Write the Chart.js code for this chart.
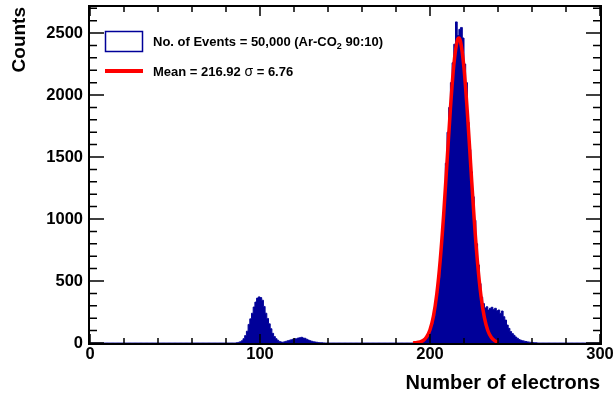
<!DOCTYPE html>
<html>
<head>
<meta charset="utf-8">
<script src="https://cdn.jsdelivr.net/npm/chart.js@4.4.0/dist/chart.umd.min.js"></script>
<style>
  html, body { margin: 0; padding: 0; background: #fff; }
</style>
</head>
<body>
<canvas id="c" width="614" height="401"></canvas>
<script>
// ── Data ────────────────────────────────────────────────────────────────────
// One bin per electron, 0..300. Only the two non-empty runs are listed; every
// other bin is empty.
const binCount = 300;

// escape peak (~100) plus the small bump around 125
const escapeStart  = 86;
const escapeCounts = [2, 5, 10, 18, 35, 60, 95, 150, 195, 240,
                      290, 330, 362, 372, 366, 345, 295, 240, 198, 155,
                      115, 78, 52, 35, 22, 12, 8, 6, 10, 14,
                      18, 22, 26, 30, 35, 34, 40, 42, 46, 40,
                      38, 30, 24, 18, 14, 10, 8, 6, 4, 3,
                      2, 1];

// main peak (~217) with its right-hand shoulder
const photoStart  = 193;
const photoCounts = [5, 8, 12, 20, 32, 50, 76, 112, 160, 222,
                     305, 410, 530, 680, 865, 1100, 1450, 1700, 1900, 2100,
                     2260, 2410, 2590, 2480, 2530, 2545, 2460, 2250, 2100, 1780,
                     1560, 1380, 1180, 990, 800, 630, 480, 370, 318, 282,
                     292, 266, 280, 288, 270, 280, 261, 266, 239, 258,
                     212, 185, 145, 118, 92, 76, 62, 48, 38, 28,
                     22, 18, 15, 12, 9, 7, 5, 4, 3, 2];

// Gaussian fit drawn over the main peak
const fitX = [190, 192, 194, 196, 198, 200, 202, 204, 206, 208, 210, 212, 214, 216,
              217, 218, 220, 222, 224, 226, 228, 230, 232, 234, 236, 238, 240];
const fitY = [1, 3, 8, 20, 49, 107, 215, 396, 667, 1030, 1457, 1888, 2241, 2437,
              2460, 2429, 2217, 1855, 1422, 998, 642, 378, 204, 101, 46, 19, 7];

const xTickValues = [0, 100, 200, 300];
const yTickValues = [0, 500, 1000, 1500, 2000, 2500];
const xMax = 300;
const yMax = 2710;

const histLabel = ['No. of Events = 50,000 (Ar-CO', '2', ' 90:10)'];
const fitLabel  = ['Mean = 216.92 ', '\u03C3', ' = 6.76'];

const HIST_BLUE = '#000099';
const FIT_RED   = '#ff0000';
const FONT      = '"Liberation Sans", Arial, Helvetica, sans-serif';

// ── Build series ────────────────────────────────────────────────────────────
const histPoints = [];
for (let b = 0; b < binCount; b++) {
  let n = 0;
  if (b >= escapeStart && b < escapeStart + escapeCounts.length) n = escapeCounts[b - escapeStart];
  if (b >= photoStart && b < photoStart + photoCounts.length)   n = photoCounts[b - photoStart];
  histPoints.push({ x: b + 0.5, y: n });
}
const fitPoints = fitX.map((x, i) => ({ x, y: fitY[i] }));

// ── Plugins: ROOT-style frame with inward ticks, and the legend ─────────────
const frameTicks = {
  id: 'frameTicks',
  afterDatasetsDraw(chart) {
    const { ctx, chartArea: a, scales: { x, y } } = chart;
    ctx.save();
    ctx.strokeStyle = '#000';
    ctx.lineWidth = 1.5;
    ctx.beginPath();
    for (let v = 0; v <= xMax; v += 20) {
      const px = x.getPixelForValue(v);
      const len = v % 100 === 0 ? 9 : 5;
      ctx.moveTo(px, a.bottom); ctx.lineTo(px, a.bottom - len);
      ctx.moveTo(px, a.top);    ctx.lineTo(px, a.top + len);
    }
    for (let v = 0; v <= yMax; v += 100) {
      const py = y.getPixelForValue(v);
      const len = v % 500 === 0 ? 14 : 7;
      ctx.moveTo(a.left, py);  ctx.lineTo(a.left + len, py);
      ctx.moveTo(a.right, py); ctx.lineTo(a.right - len, py);
    }
    ctx.stroke();
    ctx.lineWidth = 2;
    ctx.strokeRect(a.left - 1, a.top - 1, a.right - a.left + 2, a.bottom - a.top + 2);
    ctx.restore();
  }
};

function drawParts(ctx, x, y, parts, styles) {
  parts.forEach((t, i) => {
    const s = styles[i];
    ctx.font = s.font;
    ctx.fillText(t, x, y + (s.dy || 0));
    x += ctx.measureText(t).width;
  });
}

const rootLegend = {
  id: 'rootLegend',
  afterDraw(chart) {
    const ctx = chart.ctx;
    ctx.save();
    ctx.textBaseline = 'middle';
    ctx.textAlign = 'left';
    ctx.fillStyle = '#000';
    // histogram entry: empty box
    ctx.strokeStyle = HIST_BLUE;
    ctx.lineWidth = 1.5;
    ctx.strokeRect(105.5, 31.5, 37, 20);
    const bold = `bold 13px ${FONT}`;
    drawParts(ctx, 153, 42, histLabel,
      [{ font: bold }, { font: `bold 9px ${FONT}`, dy: 5 }, { font: bold }]);
    // fit entry: red line
    ctx.strokeStyle = FIT_RED;
    ctx.lineWidth = 4;
    ctx.beginPath();
    ctx.moveTo(105, 71); ctx.lineTo(143, 71);
    ctx.stroke();
    drawParts(ctx, 153, 72, fitLabel,
      [{ font: bold }, { font: `14px ${FONT}` }, { font: bold }]);
    ctx.restore();
  }
};

// ── Chart ───────────────────────────────────────────────────────────────────
const tickFont = { family: FONT, size: 16.5, weight: 'bold' };

new Chart(document.getElementById('c').getContext('2d'), {
  type: 'line',
  data: {
    datasets: [
      {
        label: 'fit', data: fitPoints, order: 0,
        borderColor: FIT_RED, borderWidth: 3.5, fill: false,
        pointRadius: 0, cubicInterpolationMode: 'monotone'
      },
      {
        label: 'events', data: histPoints, order: 1,
        borderColor: HIST_BLUE, backgroundColor: HIST_BLUE, borderWidth: 1,
        stepped: 'middle', fill: 'origin', pointRadius: 0
      }
    ]
  },
  options: {
    responsive: false,
    animation: false,
    parsing: false,
    layout: { padding: { left: 0, right: 14, top: 7, bottom: 0 } },
    plugins: { legend: { display: false }, tooltip: { enabled: false } },
    scales: {
      x: {
        type: 'linear', min: 0, max: xMax,
        afterBuildTicks: s => { s.ticks = xTickValues.map(v => ({ value: v })); },
        afterFit: s => { s.height = 58; s.paddingLeft = 0; s.paddingRight = 0; },
        grid: { display: false, drawTicks: false },
        border: { display: false },
        ticks: { color: '#000', font: tickFont, padding: 2, maxRotation: 0, autoSkip: false,
                 callback: v => String(v) },
        title: {
          display: true, text: 'Number of electrons', align: 'end', color: '#000',
          font: { family: FONT, size: 20, weight: 'bold' }, padding: { top: 0, bottom: 6 }
        }
      },
      y: {
        type: 'linear', min: 0, max: yMax,
        afterBuildTicks: s => { s.ticks = yTickValues.map(v => ({ value: v })); },
        afterFit: s => { s.width = 90; s.paddingTop = 0; s.paddingBottom = 0; },
        grid: { display: false, drawTicks: false },
        border: { display: false },
        ticks: { color: '#000', font: tickFont, padding: 7, autoSkip: false,
                 callback: v => String(v) },
        title: {
          display: true, text: 'Counts', align: 'end', color: '#000',
          font: { family: FONT, size: 19, weight: 'bold' }, padding: { top: 8, bottom: 0 }
        }
      }
    }
  },
  plugins: [frameTicks, rootLegend]
});
</script>
</body>
</html>
